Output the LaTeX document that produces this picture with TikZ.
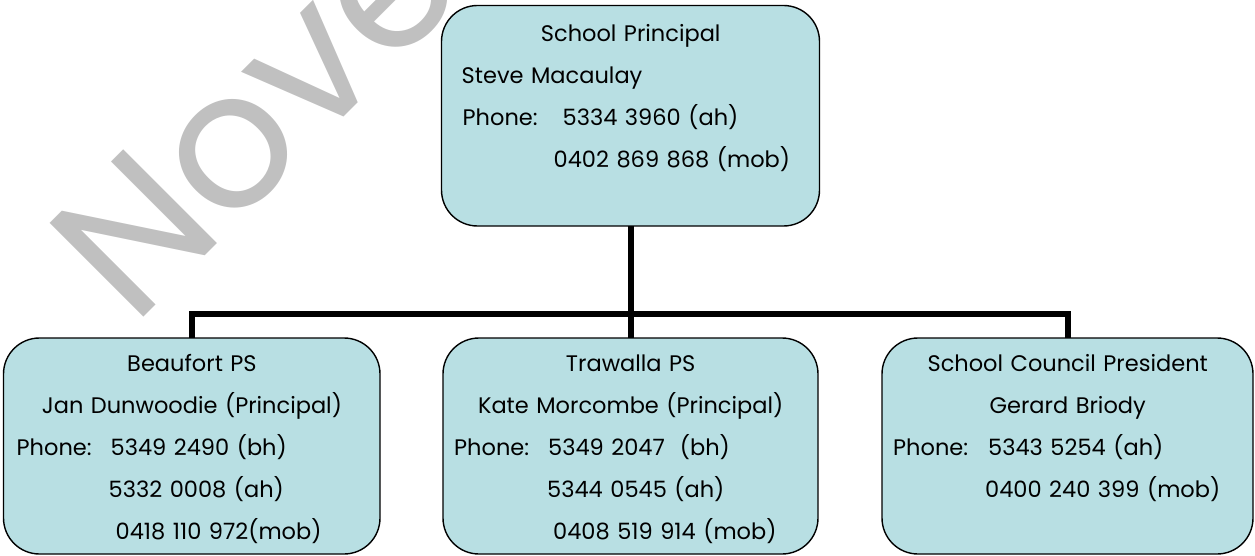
\documentclass[tikz,border=0pt]{standalone}
\usepackage{fontspec}
\setmainfont{Poppins}
\usepackage{tikz}
\usetikzlibrary{positioning,calc}
\usepackage{xcolor}
\definecolor{boxblue}{RGB}{184,223,227}
\definecolor{markgray}{RGB}{192,192,192}

\newcommand{\orgfont}{\fontsize{22.5}{42}\selectfont}
\newcommand{\ctr}[1]{\makebox[\linewidth][c]{#1}}
\newcommand{\ind}[1]{\hspace*{#1pt}}
\newcommand{\phonelabel}[1]{\makebox[#1pt][l]{Phone:}}

\tikzset{
    orgbox/.style={draw=black, line width=1.4pt, fill=boxblue, rounded corners=36pt, inner sep=0pt, outer sep=0pt},
    orgline/.style={draw=black, line width=6pt},
    orgtext/.style={anchor=base west, inner sep=0pt, text width=#1, align=left, font=\orgfont},
    watermark/.style={text=markgray, inner sep=0pt, font=\fontsize{190}{190}\selectfont}
}

\begin{document}
\begin{tikzpicture}[x=1pt, y=-1pt]
    \useasboundingbox (0,0) rectangle (1255,556);

    % watermark behind everything
    \node[watermark, rotate=45, anchor=base west] (mark) at (133,328) {Nove};

    % boxes
    \node[orgbox, minimum width=378pt, minimum height=220.5pt] (principal) at (630.5,115.75) {};
    \node[orgbox, minimum width=376.5pt, minimum height=216pt] (beaufort) at (191.75,446) {};
    \node[orgbox, minimum width=375pt, minimum height=216pt] (trawalla) at (630.5,446) {};
    \node[orgbox, minimum width=371pt, minimum height=216pt] (council) at (1067.5,446) {};

    % texts
    \node[orgtext=378pt] (principaltext) at ([yshift=-36.5pt]principal.north west) {
        \ctr{School Principal}\\
        \ind{20}Steve Macaulay\\
        \ind{21}\phonelabel{100}5334 3960 (ah)\\
        \ind{112}0402 869 868 (mob)};
    \node[orgtext=376.5pt] (beauforttext) at ([yshift=-33pt]beaufort.north west) {
        \ctr{Beaufort PS}\\
        \ctr{Jan Dunwoodie (Principal)}\\
        \ind{13}\phonelabel{94}5349 2490 (bh)\\
        \ind{105}5332 0008 (ah)\\
        \ind{112}0418 110 972(mob)};
    \node[orgtext=375pt] (trawallatext) at ([yshift=-33pt]trawalla.north west) {
        \ctr{Trawalla PS}\\
        \ctr{Kate Morcombe (Principal)}\\
        \ind{11}\phonelabel{94}5349 2047~~(bh)\\
        \ind{104}5344 0545 (ah)\\
        \ind{110}0408 519 914 (mob)};
    \node[orgtext=371pt] (counciltext) at ([yshift=-33pt]council.north west) {
        \ctr{School Council President}\\
        \ctr{Gerard Briody}\\
        \ind{11}\phonelabel{95}5343 5254 (ah)\\
        \ind{103}0400 240 399 (mob)};

    % connectors
    \coordinate (bus) at (630.5,313.5);
    \draw[orgline] (principal.south) -- (trawalla.north);
    \draw[orgline] (beaufort.north) |- (bus) -| (council.north);
\end{tikzpicture}
\end{document}
